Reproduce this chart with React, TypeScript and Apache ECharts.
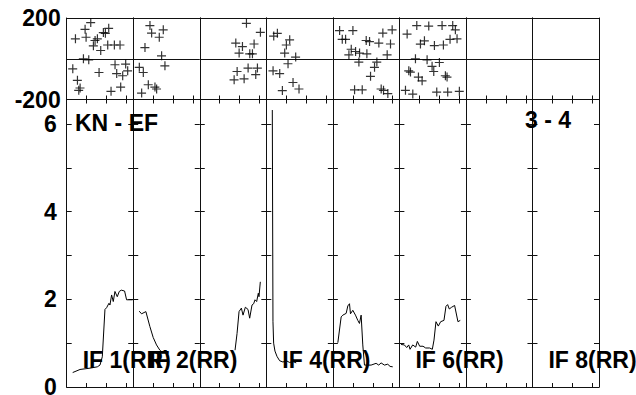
import React, { useEffect, useRef } from "react";
import * as echarts from "echarts";

// ---------- data ----------
const columnNames = ["IF 1(RR)", "IF 2(RR)", "IF 3(RR)", "IF 4(RR)", "IF 5(RR)", "IF 6(RR)", "IF 7(RR)", "IF 8(RR)"];
const shownColumnLabels = [0, 1, 3, 5, 7];
const panelTitleLeft = "KN - EF";
const panelTitleRight = "3 - 4";

const phaseTicks = [-200, 0, 200];
const ampTickLabels = [0, 2, 4, 6];

const scatterIF1: [number, number][] = [
  [3.6, 178], [2.75, 145], [1.3, 98], [2.9, 106], [4.25, 90], [4.6, 98], [5.5, 129], [5.8, 125],
  [6.3, 150], [4.0, 64], [5.1, 41], [6.15, 68], [7.15, 68], [8.0, 68], [2.5, 0], [3.3, -5],
  [0.9, -49], [1.6, -106], [2.0, -143], [1.8, -155], [4.85, -67], [7.25, -29], [8.85, -26],
  [7.5, -73], [8.4, -83], [9.15, -59], [6.65, -160], [8.1, -139],
];
const scatterIF2: [number, number][] = [
  [2.5, 163], [2.75, 126], [4.5, 142], [3.9, 106], [1.75, 55], [4.25, 15], [4.75, -34],
  [0.9, -42], [1.5, -67], [2.25, -127], [1.25, -168], [3.25, -139], [3.5, -148],
];
const scatterIF3: [number, number][] = [
  [7.0, 174], [9.1, 130], [5.4, 77], [6.4, 60], [8.15, 73], [5.9, 28], [7.5, 24], [7.9, 24],
  [5.6, -62], [7.25, -46], [8.65, -46], [5.15, -103], [6.65, -98], [8.4, -77],
];
const scatterIF4: [number, number][] = [
  [1.1, 112], [1.65, 125], [3.5, 93], [3.0, 68], [2.75, 28], [4.4, 8], [3.25, -24],
  [1.0, -59], [2.0, -73], [4.0, -116], [4.9, -148], [2.4, -156],
];
const scatterIF5: [number, number][] = [
  [1.0, 139], [3.0, 139], [1.4, 96], [1.9, 96], [7.5, 126], [8.9, 142], [5.0, 90], [5.5, 85],
  [6.9, 77], [8.65, 73], [2.75, 47], [3.4, 36], [2.4, 20], [4.0, 28], [5.1, 24], [8.15, 20],
  [3.9, -16], [6.6, -16], [6.25, -42], [5.65, -86], [3.25, -152], [4.4, -152], [7.25, -148],
  [7.6, -155], [8.25, -171],
];
const scatterIF6: [number, number][] = [
  [2.6, 163], [4.4, 161], [6.4, 163], [8.0, 163], [8.4, 142], [1.15, 121], [3.15, 72], [3.75, 88],
  [5.25, 65], [6.6, 68], [7.6, 96], [8.65, 98], [2.4, 0], [4.15, -5], [6.0, -18], [4.9, -37],
  [5.15, -62], [1.4, -59], [1.65, -65], [2.85, -90], [3.4, -108], [6.9, -83], [7.15, -90],
  [0.9, -155], [2.0, -173], [5.6, -163], [7.25, -163], [9.0, -160],
];
const scatterIF7: [number, number][] = [];
const scatterIF8: [number, number][] = [];

const ampIF1: [number, number][] = [
  [0.9, 0.33], [2.0, 0.4], [3.5, 0.43], [4.6, 0.46], [5.0, 0.5], [5.35, 0.69], [5.75, 1.77],
  [6.0, 1.81], [6.35, 1.91], [6.5, 1.87], [6.75, 2.1], [7.0, 1.95], [7.25, 2.18], [7.6, 2.06],
  [7.9, 2.18], [8.2, 2.21], [8.7, 2.19], [9.0, 1.99], [9.9, 1.99],
];
const ampIF2: [number, number][] = [
  [0.9, 1.73], [1.25, 1.67], [1.9, 1.72], [2.5, 1.38], [3.0, 1.13], [3.5, 0.96], [4.0, 0.84], [4.4, 0.78],
];
const ampIF3: [number, number][] = [
  [5.3, 0.84], [5.6, 1.22], [5.9, 1.72], [6.25, 1.8], [6.5, 1.64], [6.85, 1.82], [7.25, 1.77],
  [7.5, 1.57], [7.85, 1.87], [8.1, 1.9], [8.3, 1.99], [8.55, 1.95], [8.8, 2.14], [8.9, 2.06], [9.1, 2.4],
];
const ampIF4: [number, number][] = [
  [0.9, 6.32], [1.0, 1.5], [1.1, 1.0], [1.3, 0.82], [1.6, 0.7], [2.0, 0.6], [2.5, 0.57],
  [3.0, 0.6], [3.5, 0.56], [4.0, 0.58], [4.5, 0.55],
];
const ampIF5: [number, number][] = [
  [0.75, 1.01], [1.25, 1.6], [1.5, 1.64], [2.0, 1.68], [2.25, 1.85], [2.5, 1.9], [2.65, 1.67],
  [3.0, 1.75], [3.4, 1.64], [3.75, 1.52], [4.0, 1.45], [4.25, 1.64], [4.5, 0.96], [4.75, 0.5],
  [5.75, 0.5], [6.5, 0.54], [6.9, 0.5], [7.25, 0.55], [7.75, 0.5], [8.25, 0.52], [8.6, 0.47], [9.0, 0.46],
];
const ampIF6: [number, number][] = [
  [0.25, 0.97], [0.75, 0.96], [1.1, 0.9], [1.4, 0.96], [1.6, 0.86], [2.0, 0.96], [2.45, 0.91],
  [2.7, 1.04], [3.05, 0.93], [3.55, 0.93], [3.95, 0.89], [4.55, 0.89], [4.95, 0.86], [5.2, 1.07],
  [5.5, 1.49], [5.85, 1.39], [6.2, 1.49], [6.7, 1.52], [7.0, 1.84], [7.25, 1.88], [7.5, 1.78],
  [7.85, 1.82], [8.3, 1.86], [8.8, 1.49], [9.15, 1.52],
];
const ampIF7: [number, number][] = [];
const ampIF8: [number, number][] = [];

const scatterByColumn = [scatterIF1, scatterIF2, scatterIF3, scatterIF4, scatterIF5, scatterIF6, scatterIF7, scatterIF8];
const ampByColumn = [ampIF1, ampIF2, ampIF3, ampIF4, ampIF5, ampIF6, ampIF7, ampIF8];

// ---------- layout ----------
const PLOT_LEFT = 66.7;
const PLOT_RIGHT = 599;
const TOP_Y = 18;
const MID_Y = 99.5;
const BOT_Y = 387;
const COL_W = (PLOT_RIGHT - PLOT_LEFT) / 8;
const FONT = '"Liberation Sans", Arial, sans-serif';
const INK = "#111";
const PLUS = "path://M0,4H9V5.2H0Z M4,0H5.2V9H4Z";

export default function App() {
  const ref = useRef<HTMLDivElement>(null);
  useEffect(() => {
    if (!ref.current) return;
    const chart = echarts.init(ref.current, undefined, { renderer: "svg" });
    const grids: any[] = [];
    const xAxes: any[] = [];
    const yAxes: any[] = [];
    const series: any[] = [];
    const lineStyle = { color: INK, width: 1 };
    const baseX = {
      type: "value", min: 0, max: 10, interval: 3,
      axisLabel: { show: false }, splitLine: { show: false },
      axisLine: { show: true, onZero: false, lineStyle },
    };
    for (let c = 0; c < 8; c++) {
      grids.push({ left: PLOT_LEFT + c * COL_W, top: TOP_Y, width: COL_W, height: MID_Y - TOP_Y, outerBoundsMode: "none", containLabel: false });
    }
    for (let c = 0; c < 8; c++) {
      grids.push({ left: PLOT_LEFT + c * COL_W, top: MID_Y, width: COL_W, height: BOT_Y - MID_Y, outerBoundsMode: "none", containLabel: false });
    }
    for (let c = 0; c < 8; c++) {
      xAxes.push({ ...baseX, gridIndex: c, position: "bottom", axisTick: { show: true, inside: true, length: 4, lineStyle } });
      xAxes.push({ ...baseX, gridIndex: c, position: "top", axisTick: { show: false } });
      xAxes.push({ ...baseX, gridIndex: 8 + c, position: "bottom", axisTick: { show: true, inside: true, length: 4, lineStyle } });
      xAxes.push({ ...baseX, gridIndex: 8 + c, position: "top", axisTick: { show: true, inside: true, length: 4, lineStyle } });
      yAxes.push({
        type: "value", gridIndex: c, position: "left",
        min: phaseTicks[0], max: phaseTicks[phaseTicks.length - 1], interval: 200,
        axisLine: { show: true, onZero: false, lineStyle },
        axisTick: { show: false },
        splitLine: { show: true, lineStyle },
        axisLabel: {
          show: c === 0, margin: 6, fontFamily: FONT, fontWeight: "bold", fontSize: 23, color: "#000",
          padding: [4, 0, 0, 0],
          formatter: (v: number) => (v === 0 ? "" : String(v)),
        },
      });
      yAxes.push({
        type: "value", gridIndex: c, position: "right", min: -200, max: 200, interval: 200,
        axisLine: { show: true, onZero: false, lineStyle },
        axisTick: { show: false }, splitLine: { show: false }, axisLabel: { show: false },
      });
      yAxes.push({
        type: "value", gridIndex: 8 + c, position: "left", min: 0, max: 6.56, interval: 1,
        axisLine: { show: true, onZero: false, lineStyle },
        axisTick: { show: true, inside: true, length: 5, lineStyle },
        splitLine: { show: false },
        axisLabel: {
          show: c === 0, margin: 10, fontFamily: FONT, fontWeight: "bold", fontSize: 23, color: "#000",
          padding: [4, 0, 0, 0],
          formatter: (v: number) => (ampTickLabels.includes(v) ? String(v) : ""),
        },
      });
      yAxes.push({
        type: "value", gridIndex: 8 + c, position: "right", min: 0, max: 6.56, interval: 1,
        axisLine: { show: true, onZero: false, lineStyle },
        axisTick: { show: true, inside: true, length: 5, lineStyle },
        splitLine: { show: false }, axisLabel: { show: false },
      });
      if (scatterByColumn[c].length) {
        series.push({
          type: "scatter", name: columnNames[c] + " phase", xAxisIndex: 4 * c, yAxisIndex: 4 * c,
          data: scatterByColumn[c], symbol: PLUS, symbolSize: 9,
          itemStyle: { color: "#000" }, z: 3,
        });
      }
      if (ampByColumn[c].length) {
        series.push({
          type: "line", name: columnNames[c] + " amp", xAxisIndex: 4 * c + 2, yAxisIndex: 4 * c + 2,
          data: ampByColumn[c], symbol: "none", lineStyle: { color: "#000", width: 1 }, z: 3,
        });
      }
    }
    const font = `bold 23px ${FONT}`;
    const txt = (text: string, x: number, y: number) => ({
      type: "text", z: 100,
      style: { text, x, y, font, fill: "#000", align: "left", verticalAlign: "middle", textAlign: "left", textVerticalAlign: "middle" },
    });
    const graphics: any[] = [
      txt(panelTitleLeft, 75, 123),
      txt(panelTitleRight, 525, 119.5),
      ...shownColumnLabels.map((c) => txt(columnNames[c], PLOT_LEFT + c * COL_W + 16, 360)),
    ];
    chart.setOption({
      animation: false,
      backgroundColor: "#fff",
      grid: grids,
      xAxis: xAxes,
      yAxis: yAxes,
      series,
      graphic: graphics,
    });
    return () => chart.dispose();
  }, []);
  return <div ref={ref} style={{ position: "fixed", left: 0, top: 0, width: 636, height: 395 }} />;
}
